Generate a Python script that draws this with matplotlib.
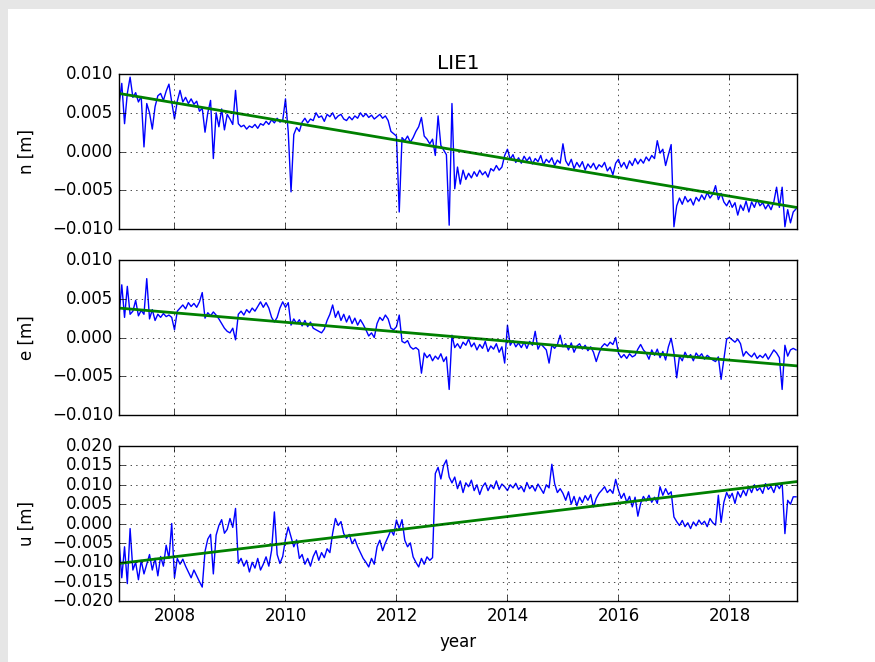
import matplotlib
matplotlib.use("Agg")
import matplotlib.pyplot as plt
import numpy as np
from matplotlib.patches import Rectangle

plt.style.use('classic')

# station LIE1, displacement in mm, 20 samples per year from 2007.0 to 2019.2
t_start, t_end = 2007.0, 2019.2

n_mm = [
    6.0, 8.8, 3.6, 7.5, 9.6, 7.0, 7.6, 6.4, 7.1, 0.6, 6.2, 5.0, 2.9, 5.8, 7.2, 7.5, 6.6, 7.8, 8.7, 6.4,  # 2007
    4.2, 6.5, 7.9, 6.4, 7.0, 6.2, 6.8, 6.1, 6.5, 5.2, 5.6, 2.5, 5.0, 6.6, -0.9, 5.0, 3.2, 5.5, 2.8, 4.8,  # 2008
    4.2, 3.5, 7.9, 3.6, 3.2, 3.4, 2.9, 3.3, 3.1, 3.5, 3.0, 3.6, 3.4, 3.9, 3.5, 4.1, 3.7, 4.3, 3.8, 4.0,  # 2009
    6.8, 2.5, -5.2, 2.2, 3.1, 2.6, 3.8, 4.3, 3.7, 4.2, 4.0, 5.0, 4.4, 4.6, 3.9, 4.8, 4.5, 5.0, 4.2, 4.6,  # 2010
    4.8, 4.2, 4.0, 4.5, 4.1, 4.6, 4.3, 5.0, 4.5, 4.9, 4.4, 4.7, 4.2, 4.5, 4.8, 4.3, 4.6, 4.0, 2.6, 2.3,  # 2011
    2.0, -7.8, 1.8, 1.4, 2.0, 1.2, 1.8, 2.6, 3.2, 4.4, 2.0, 1.6, 1.0, 1.6, -0.5, 4.6, 0.8, 0.2, -0.4, -9.5,  # 2012
    6.2, -4.8, -2.0, -4.2, -2.4, -3.6, -2.8, -3.4, -2.6, -3.2, -2.4, -3.0, -2.6, -3.3, -2.2, -2.5, -1.8, -2.4, -2.0, -0.5,  # 2013
    0.3, -1.0, -0.4, -1.4, -0.8, -1.5, -0.6, -1.2, -0.7, -1.6, -0.9, -1.3, -0.5, -1.7, -1.0, -1.4, -0.8, -1.8, -1.1, -1.5,  # 2014
    1.0, -1.2, -1.8, -1.0, -2.2, -1.4, -2.0, -1.3, -2.4, -1.6, -2.1, -1.5, -2.3, -1.7, -2.0, -1.4, -2.5, -2.0, -3.0, -1.5,  # 2015
    -1.0, -2.0, -1.4, -2.2, -1.2, -1.8, -0.9, -1.6, -1.0, -1.5, -0.7, -1.2, -0.5, -0.9, 1.4, -0.2, 0.3, -1.8, -0.4, 0.9,  # 2016
    -9.7, -7.0, -6.0, -6.8, -5.8, -6.5, -6.1, -6.9, -5.9, -6.4, -5.6, -6.2, -5.3, -6.0, -5.5, -4.4, -6.2, -5.4, -6.5, -7.0,  # 2017
    -6.3, -7.2, -6.6, -8.2, -6.9, -7.6, -6.4, -7.8, -6.5, -7.2, -6.2, -7.0, -6.6, -7.4, -6.8, -7.5, -6.5, -4.6, -7.2, -4.6,  # 2018
    -9.7, -7.5, -9.2, -7.8, -7.4,  # 2019
]

e_mm = [
    2.8, 6.8, 2.6, 6.6, 3.0, 3.4, 4.8, 2.8, 3.5, 3.0, 7.6, 2.4, 3.6, 2.2, 3.0, 2.6, 3.1, 2.7, 2.9, 2.6,  # 2007
    1.0, 3.4, 3.8, 4.2, 3.7, 4.5, 4.0, 4.4, 3.9, 4.6, 5.8, 2.5, 3.2, 2.8, 3.3, 2.9, 2.4, 1.8, 1.2, 0.8,  # 2008
    0.6, 1.2, -0.3, 3.0, 3.4, 2.9, 3.6, 3.2, 3.8, 3.4, 4.0, 4.6, 3.9, 4.5, 3.8, 2.6, 2.0, 2.6, 3.8, 4.6,  # 2009
    3.9, 4.5, 1.6, 2.4, 1.8, 2.3, 1.5, 2.2, 1.4, 2.0, 1.2, 1.0, 0.8, 0.6, 1.1, 2.2, 3.0, 4.2, 2.6, 3.4,  # 2010
    2.2, 3.0, 2.0, 2.8, 1.8, 2.5, 1.6, 2.3, 1.7, 1.0, 0.2, 0.6, 0.0, 1.8, 2.6, 2.2, 2.9, 2.4, 1.2, 1.0,  # 2011
    1.4, 2.9, -0.5, -0.7, -0.4, -1.2, -1.5, -1.3, -1.6, -4.6, -2.0, -2.6, -2.2, -3.0, -2.4, -2.8, -2.1, -3.1, -2.5, -6.7,  # 2012
    0.3, -1.3, -0.8, -1.4, -0.6, -1.0, -0.2, -1.2, -0.7, -1.6, -0.9, -1.4, -0.5, -1.8, -1.1, -1.5, -0.8, -1.9, -1.2, -3.3,  # 2013
    1.6, -1.0, -0.4, -1.2, -0.7, -1.3, -0.6, -1.4, -0.5, -1.0, 0.8, -1.5, -0.8, -1.2, -1.6, -3.3, -1.0, -1.4, -0.9, 0.3,  # 2014
    -1.2, -0.8, -1.6, -0.7, -1.9, -1.1, -0.8, -1.5, -1.0, -1.7, -1.2, -1.9, -3.1, -2.0, -1.2, -0.8, -1.1, -0.6, -0.9, 0.0,  # 2015
    -2.0, -2.6, -2.2, -2.7, -2.1, -2.5, -2.3, -1.5, -0.9, -1.6, -2.0, -2.8, -1.6, -2.3, -1.5, -2.6, -1.8, -2.9, -1.2, -0.1,  # 2016
    -2.0, -5.2, -2.4, -3.0, -1.9, -2.6, -2.2, -3.0, -2.0, -2.5, -2.1, -2.8, -2.3, -2.6, -2.9, -3.1, -2.5, -5.4, -2.8, -0.2,  # 2017
    0.0, -0.3, -0.6, -0.2, -0.8, -2.4, -1.8, -2.2, -2.5, -2.0, -2.7, -2.3, -2.6, -2.1, -2.8, -2.2, -1.6, -2.0, -2.6, -6.7,  # 2018
    -1.0, -2.4, -1.6, -1.4, -1.6,  # 2019
]

u_mm = [
    -4.5, -14.0, -6.0, -15.5, -1.3, -12.0, -10.0, -14.5, -9.5, -13.0, -10.5, -8.0, -12.0, -9.0, -13.5, -8.5, -11.0, -5.6, -9.0, 0.0,  # 2007
    -14.0, -9.0, -10.5, -9.2, -11.0, -12.5, -14.0, -12.0, -13.5, -15.0, -16.4, -7.2, -4.0, -2.8, -13.0, -3.0, -0.5, 1.0, -2.5, -1.5,  # 2008
    1.3, -1.0, 3.9, -10.3, -9.0, -11.0, -9.5, -12.5, -10.0, -11.5, -9.0, -12.0, -10.5, -8.6, -11.0, -6.9, 3.0, -8.0, -10.3, -8.5,  # 2009
    -4.0, -0.9, -3.5, -6.0, -4.2, -9.0, -8.0, -10.5, -9.0, -11.0, -8.5, -7.0, -9.5, -7.5, -8.8, -6.5, -7.5, -2.5, 1.3, -0.5,  # 2010
    0.5, -2.6, -3.8, -2.8, -5.2, -4.0, -6.0, -7.5, -9.0, -10.0, -11.2, -9.0, -10.5, -6.0, -4.3, -7.0, -5.0, -3.4, -1.7, -3.0,  # 2011
    0.9, -1.3, 1.0, -4.3, -6.0, -5.0, -8.6, -10.0, -11.2, -9.0, -10.5, -8.6, -9.5, -8.8, 12.9, 14.5, 11.5, 15.0, 16.4, 12.0,  # 2012
    10.5, 12.0, 9.0, 11.0, 8.0, 10.5, 9.5, 11.2, 8.5, 10.0, 7.5, 9.5, 10.5, 8.5, 10.0, 9.0, 11.0, 8.8, 10.2, 9.5,  # 2013
    8.5, 10.0, 9.2, 10.4, 8.8, 9.6, 8.2, 10.6, 9.0, 9.8, 8.4, 10.2, 9.0, 7.8, 10.0, 9.2, 15.3, 10.3, 8.0, 9.0,  # 2014
    7.8, 6.0, 8.2, 5.0, 7.0, 4.6, 6.8, 5.4, 7.2, 6.0, 7.5, 4.3, 6.5, 7.8, 8.6, 9.5, 8.0, 8.8, 7.8, 11.4,  # 2015
    8.6, 6.5, 7.8, 5.5, 7.0, 4.3, 6.8, 1.9, 5.2, 7.0, 5.8, 7.3, 5.5, 6.8, 5.2, 9.5, 7.3, 9.0, 7.5, 8.2,  # 2016
    1.7, 0.5, -0.5, 0.8, -0.8, 0.2, -1.3, 0.4, -0.6, 0.9, -0.2, 0.6, -0.8, 1.3, 0.2, -0.4, 7.3, 0.3, 5.5, 8.0,  # 2017
    6.5, 7.8, 5.2, 8.2, 6.8, 8.6, 7.2, 9.5, 8.0, 10.0, 8.5, 9.2, 7.8, 10.3, 8.8, 9.6, 8.0, 10.2, 9.0, 10.5,  # 2018
    -2.6, 6.0, 5.0, 6.9, 6.9,  # 2019
]

# linear trend (mm) at start and end epoch
n_trend = [7.5, -7.2]
e_trend = [3.8, -3.65]
u_trend = [-10.3, 10.8]

labels = ['n [m]', 'e [m]', 'u [m]']
ylims = [(-0.010, 0.010), (-0.010, 0.010), (-0.020, 0.020)]
xticks = [2008, 2010, 2012, 2014, 2016, 2018]

fig = plt.figure(figsize=(8.75, 6.62), dpi=100, facecolor='#e6e6e6')
fig.patches.append(Rectangle((8 / 875, 0), 1, 1 - 9 / 662, transform=fig.transFigure,
                             facecolor='white', edgecolor='none', zorder=-1))

bottoms = [0.654, 0.3731, 0.0921]
series = [n_mm, e_mm, u_mm]
trends = [n_trend, e_trend, u_trend]

for i in range(3):
    ax = fig.add_axes([0.136, bottoms[i], 0.775, 0.2341])
    vals = np.array(series[i]) / 1000.0
    t = np.linspace(t_start, t_end, len(vals))
    ax.plot(t, vals, 'b-', lw=1.0)
    ax.plot([t_start, t_end], np.array(trends[i]) / 1000.0, 'g-', lw=2.0)
    ax.set_xlim(2007.0, 2019.22)
    ax.set_ylim(*ylims[i])
    if i == 2:
        ax.set_yticks(np.arange(-0.020, 0.0201, 0.005))
    else:
        ax.set_yticks(np.arange(-0.010, 0.0101, 0.005))
    ax.set_xticks(xticks)
    ax.ticklabel_format(axis='x', useOffset=False, style='plain')
    ax.grid(True, linestyle=':', color='k', lw=0.5)
    ax.set_ylabel(labels[i], fontsize=12, labelpad=12)
    ax.tick_params(labelsize=12)
    if i == 0:
        ax.set_title('LIE1', fontsize=14.4, pad=4)
    if i < 2:
        ax.set_xticklabels([])
    else:
        ax.set_xlabel('year', fontsize=12, labelpad=6)

fig.savefig('out.png', dpi=100, facecolor=fig.get_facecolor())
